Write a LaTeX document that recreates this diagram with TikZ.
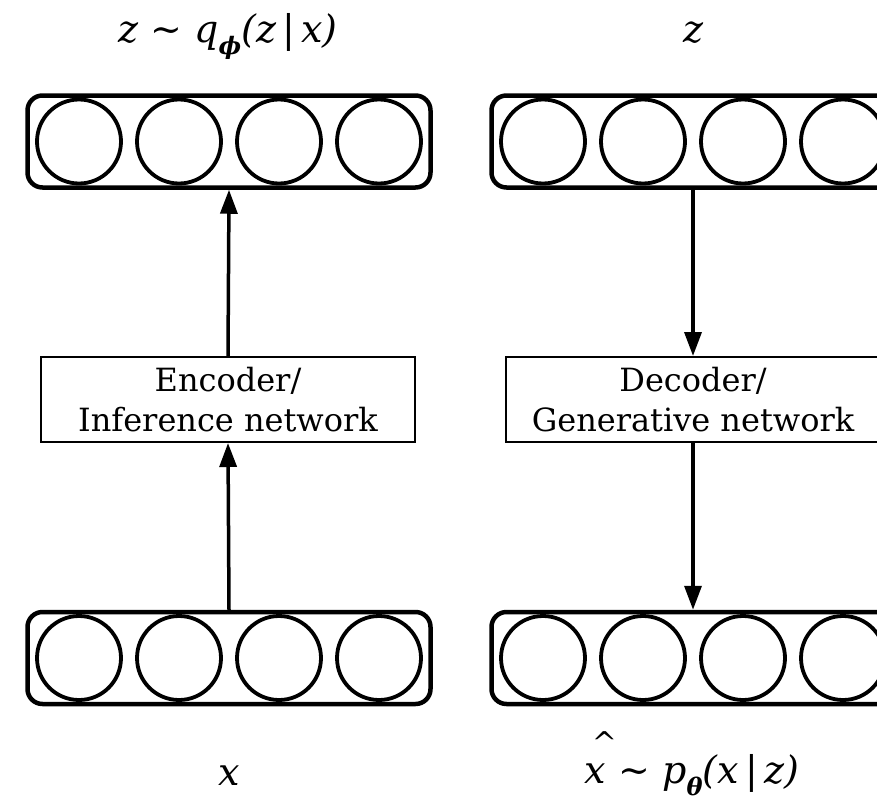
\documentclass[tikz,border=0pt]{standalone}
\usepackage{fontspec}
\setmainfont{DejaVu Serif}
\usepackage{tikz}
\usetikzlibrary{arrows.meta,positioning}

\newcommand{\subsym}[1]{\raisebox{-12pt}{\fontsize{24}{24}\selectfont\bfseries #1}}

\begin{document}
\begin{tikzpicture}[x=1pt, y=-1pt,
  layer/.style={draw, line width=4.5pt, rounded corners=15pt, minimum width=403pt, minimum height=92pt, inner sep=0pt},
  unit/.style={draw, circle, line width=3.8pt, minimum size=84pt, inner sep=0pt},
  net/.style={draw, line width=2pt, minimum width=374pt, minimum height=85pt, inner sep=0pt, align=center, font=\fontsize{32}{40}\selectfont},
  flow/.style={line width=3.5pt, -{Triangle[length=24pt,width=17pt]}},
  var/.style={font=\fontsize{38}{40}\selectfont\itshape, anchor=base, inner sep=0pt}]

\useasboundingbox (0,0) rectangle (877,800);
\clip (0,0) rectangle (877,800);

% Encoder side
\node[layer] (xin) at (229,658) {};
\node[net] (enc) at (228,399.5) {Encoder/\\Inference network};
\node[layer] (zq) at (229,141.5) {};
\foreach \i/\dx in {1/-150,2/-50,3/50,4/150} {
  \node[unit] (xin\i) at ([xshift=\dx]xin.center) {};
  \node[unit] (zq\i) at ([xshift=\dx]zq.center) {};
}
\draw[flow] (xin.north) -- (enc.south);
\draw[flow] (enc.north) -- (zq.south);

\node[var] (lzq) at (228,43) {z \textasciitilde{} q\subsym{ϕ}(z\,|\,x)};
\node[var] (lx) at (229,785) {x};

% Decoder side
\node[layer] (zin) at (693,141.5) {};
\node[net] (dec) at (693,399.5) {Decoder/\\Generative network};
\node[layer] (xout) at (693,658) {};
\foreach \i/\dx in {1/-150,2/-50,3/50,4/150} {
  \node[unit] (zin\i) at ([xshift=\dx]zin.center) {};
  \node[unit] (xout\i) at ([xshift=\dx]xout.center) {};
}
\draw[flow] (zin.south) -- (dec.north);
\draw[flow] (dec.south) -- (xout.north);

\node[var] (lz) at (693,43) {z};
\node[var] (lxh) at (692,783) {\makebox[0pt][l]{\hspace{7pt}\raisebox{30pt}{\fontsize{30}{30}\selectfont\textasciicircum}}x \textasciitilde{} p\subsym{θ}(x\,|\,z)};

\end{tikzpicture}
\end{document}
